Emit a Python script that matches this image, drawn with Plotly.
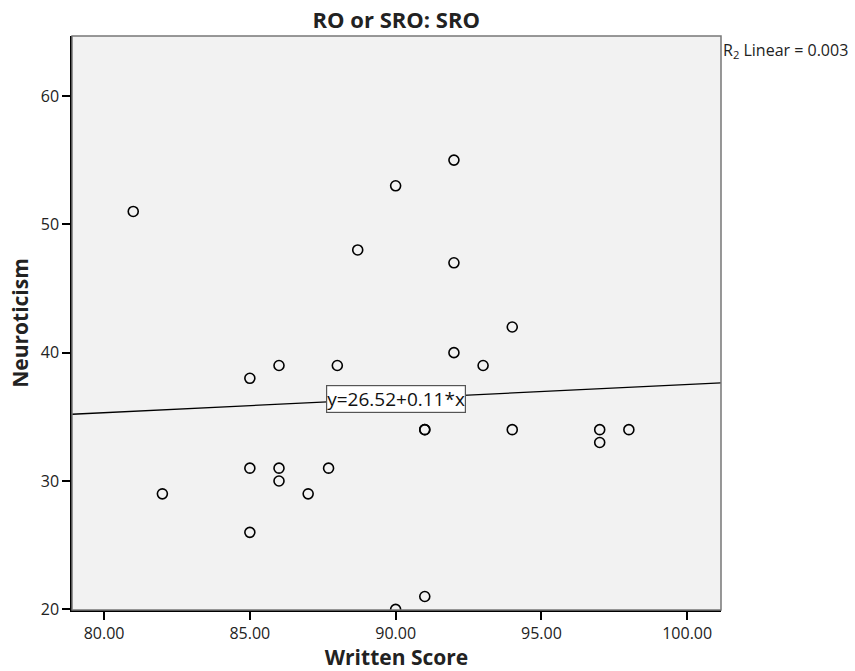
import plotly.graph_objects as go

written_score = [82, 85, 86, 86, 87.7, 87, 85, 91, 91, 91, 90, 81, 90, 92, 88.7, 92, 92, 85, 86, 88, 94, 93, 94, 97, 97, 98]
neuroticism = [29, 31, 31, 30, 31, 29, 26, 34, 34, 21, 20, 51, 53, 55, 48, 47, 40, 38, 39, 39, 42, 39, 34, 34, 33, 34]
fit_intercept = 26.52
fit_slope = 0.11
r2_text = "R<sub>2</sub> Linear = 0.003"
x_ticks = [80, 85, 90, 95, 100]
y_ticks = [20, 30, 40, 50, 60]
x_range = [78.9, 101.16]
y_range = [19.95, 64.67]

font = "Open Sans, Lato, sans-serif"

fig = go.Figure()

line_x = x_range
line_y = [fit_intercept + fit_slope * v for v in line_x]
fig.add_trace(go.Scatter(x=line_x, y=line_y, mode="lines",
                         line=dict(color="black", width=1.3), showlegend=False, hoverinfo="skip"))
fig.add_trace(go.Scatter(x=written_score, y=neuroticism, mode="markers",
                         marker=dict(symbol="circle-open", size=10, color="black", line=dict(width=1.6)),
                         showlegend=False))

eq_x = 90
fig.add_annotation(x=eq_x, y=fit_intercept + fit_slope * eq_x, xref="x", yref="y",
                   text=f"y={fit_intercept:.2f}+{fit_slope:.2f}*x", showarrow=False,
                   font=dict(family=font, size=19, color="#111"),
                   bgcolor="white", bordercolor="#555", borderwidth=1.2, borderpad=0)

fig.add_annotation(x=1.0, y=1.0, xref="paper", yref="paper", xanchor="left", yanchor="top",
                   xshift=0, yshift=-1,
                   text=r2_text, showarrow=False,
                   font=dict(family=font, size=16, color="#222"))

# plot frame
fig.add_shape(type="rect", xref="paper", yref="paper", x0=0, x1=1, y0=0, y1=1,
              line=dict(color="#777", width=1.5), layer="above")

fig.update_layout(
    width=855, height=671,
    margin=dict(l=72, r=134, t=36, b=61),
    paper_bgcolor="white", plot_bgcolor="#f2f2f2",
    title=dict(text="<b>RO or SRO: SRO</b>", x=0.4635, xanchor="center", y=0.970, yanchor="middle",
               font=dict(family=font, size=22, color="#222")),
    font=dict(family=font, color="#222"),
    xaxis=dict(range=x_range, tickvals=x_ticks, ticktext=[f"{v:.2f}" for v in x_ticks],
               showgrid=False, zeroline=False, showline=True, linecolor="black", linewidth=1.5,
               ticks="outside", ticklen=8, tickcolor="black", tickwidth=1.5, automargin=False,
               tickfont=dict(size=16, family=font, color="#222"),
               title=dict(text="<b>Written Score</b>", font=dict(size=21, family=font, color="#222"), standoff=8)),
    yaxis=dict(range=y_range, tickvals=y_ticks, automargin=False,
               showgrid=False, zeroline=False, showline=True, linecolor="black", linewidth=1.5,
               ticks="outside", ticklen=8, tickcolor="black", tickwidth=1.5,
               tickfont=dict(size=16, family=font, color="#222"),
               title=dict(text="<b>Neuroticism</b>", font=dict(size=21, family=font, color="#222"), standoff=6)),
)

fig.write_html("out.html")
